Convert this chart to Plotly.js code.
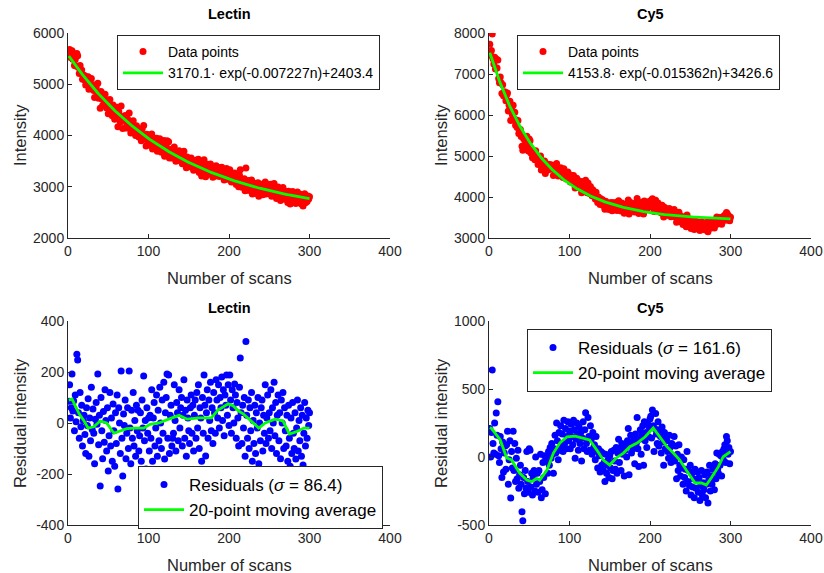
<!DOCTYPE html>
<html><head><meta charset="utf-8">
<script src="https://cdn.plot.ly/plotly-3.0.1.min.js"></script>
<style>html,body{margin:0;padding:0;background:#fff}#chart{width:824px;height:573px}</style>
</head><body><div id="chart"></div>
<script>
// Fit parameters (from the legends): I(n) = A*exp(k*n) + C
const lectinA = 3170.1, lectinK = -0.007227, lectinC = 2403.4;
const cy5A = 4153.8, cy5K = -0.015362, cy5C = 3426.6;

// Residuals, scans 1..300
const lectinResid = [
85,150,20,60,192,47,86,-30,110,5,
270,247,40,-60,120,-15,70,-90,10,30,
-45,-120,60,-10,95,-130,20,-70,140,-25,
55,-40,-160,15,80,-5,192,-85,30,-247,
100,-30,-140,45,-75,130,10,-110,60,-188,
-50,120,-90,20,-150,75,-30,-170,40,-80,
110,-259,60,0,-120,204,-60,-208,35,-10,
90,-140,-40,60,-100,204,-20,-160,50,-60,
120,-90,10,-130,70,-30,50,-110,-50,40,
-150,90,-20,184,-70,10,-180,60,-40,20,
-110,30,-60,130,-150,20,80,-90,-20,110,
-130,50,-70,140,0,-100,90,-40,160,-141,
40,100,192,-60,188,-120,30,70,-90,-60,
-40,150,10,-110,80,40,-70,130,-20,60,
100,-90,30,170,-60,50,-130,90,20,-30,
-80,60,110,-40,70,-110,30,90,-60,120,
-20,150,-100,60,20,-150,100,-40,188,70,
-129,40,130,-60,90,10,160,-30,60,-80,
120,40,-40,170,90,20,150,-20,100,60,
180,10,130,-50,110,70,188,30,150,-10,
188,90,-40,130,60,0,153,110,-60,80,
20,-90,140,255,40,-80,70,-20,100,-130,
320,30,-60,90,-100,60,-30,120,-150,10,
-80,70,-120,40,-20,100,-160,0,-70,60,
90,-110,30,-40,150,-80,20,110,-60,40,
-30,130,-100,60,0,160,-50,80,-120,30,
110,-70,40,-140,90,0,120,-100,60,-30,
-90,30,-150,70,-60,-170,20,-120,80,-40,
-100,40,-141,-20,90,-110,10,-70,60,-130,
30,-165,-40,80,-90,20,-60,50,-10,40];

const cy5Resid = [
210,0,180,640,100,30,250,20,323,160,
407,10,-40,150,60,-150,110,-110,30,80,
-90,90,190,-200,-20,120,-302,40,-80,190,
-100,100,-180,-10,-160,50,-230,-130,-60,-200,
-402,-468,-150,-270,-100,-230,40,-180,-260,60,
50,-220,-120,-280,-150,-100,-250,0,-200,-120,
-260,-100,-180,20,-300,-240,-40,-150,10,-270,
-30,0,-120,40,-60,70,-10,100,20,-120,
60,160,30,250,120,-20,180,50,230,90,
170,40,270,100,210,60,150,260,120,190,
60,240,150,90,270,200,-10,130,250,170,
50,220,100,180,-30,140,260,60,200,326,
100,40,290,150,50,230,130,20,180,70,
90,-20,150,40,-80,60,10,-110,40,-60,
30,-100,-40,-180,20,-120,-60,-20,-150,10,
-80,40,-160,-100,50,-30,-90,70,-120,30,
130,-40,60,-100,100,20,80,-140,50,90,
0,120,210,-130,80,160,30,110,60,140,
-50,170,100,290,60,-70,130,200,20,160,
230,-60,260,120,180,70,250,150,220,280,
300,140,345,230,40,210,320,170,100,260,
80,200,150,30,220,110,-60,180,60,140,
120,40,-10,160,70,-40,100,10,-20,150,
-30,80,-160,20,-100,90,-60,-140,0,-80,
-200,-20,-150,-90,-250,40,-180,-100,-210,-60,
-280,-120,-220,-160,-300,-90,-230,-170,-110,-260,
-150,-320,-210,-100,-280,-190,-240,-130,-300,-200,
-110,-338,-170,-60,-250,-140,-200,-90,-160,-240,
-50,-160,30,-90,-120,20,-60,10,-140,40,
-20,60,90,-40,150,120,20,70,-50,40];

// 20-point moving averages
const lectinMaN = [1,5,14,20,25,32,40,48,57,66,73,84,94,102,113,125,138,148,163,178,186,199,205,212,218,225,230,237,245,257,267,275,283,293,300];
const lectinMa  = [90,94,35,8,-20,-15,8,0,-40,-30,-22,-20,-20,-5,0,15,30,15,20,20,50,75,68,47,35,15,0,-20,0,15,8,-43,-35,-20,-20];
const cy5MaN = [1,3,14,22,28,38,47,53,59,63,72,80,88,97,107,117,125,134,142,150,158,167,175,184,194,204,212,221,229,237,245,256,264,270,276,285,291,300];
const cy5Ma  = [215,211,125,-7,-22,-118,-169,-181,-157,-170,-96,29,103,149,154,140,125,51,-22,-59,-7,29,76,103,149,213,149,76,29,-22,-96,-191,-191,-206,-154,-71,2,39];

// Tick labels
const xTicks = [0,100,200,300,400];
const lectinTopTicks = [2000,3000,4000,5000,6000];
const cy5TopTicks = [3000,4000,5000,6000,7000,8000];
const lectinResTicks = [-400,-200,0,200,400];
const lectinResLabels = ['-400','-200','0','200','400'];
const cy5ResTicks = [-500,0,500,1000];
const cy5ResLabels = ['-500','0','500','1000'];

const scans = lectinResid.map((_, i) => i + 1);
const lectinFitY = scans.map(n => lectinA * Math.exp(lectinK * n) + lectinC);
const cy5FitY = scans.map(n => cy5A * Math.exp(cy5K * n) + cy5C);
const lectinData = lectinResid.map((r, i) => lectinFitY[i] + r);
const cy5Data = cy5Resid.map((r, i) => cy5FitY[i] + r);

const FONT = 'Liberation Sans, Arial, Helvetica, sans-serif';
const AX = '#262626';
const GREEN = '#00ff00';
const MS = 7;

const traces = [
  {x: scans, y: lectinData, mode: 'markers', marker: {color: '#ff0000', size: MS}, name: 'Data points', xaxis: 'x', yaxis: 'y', legend: 'legend'},
  {x: scans, y: lectinFitY, mode: 'lines', line: {color: GREEN, width: 2.8}, name: '3170.1· exp(-0.007227n)+2403.4', xaxis: 'x', yaxis: 'y', legend: 'legend'},
  {x: scans, y: cy5Data, mode: 'markers', marker: {color: '#ff0000', size: MS}, name: 'Data points', xaxis: 'x2', yaxis: 'y2', legend: 'legend2'},
  {x: scans, y: cy5FitY, mode: 'lines', line: {color: GREEN, width: 2.8}, name: '4153.8· exp(-0.015362n)+3426.6', xaxis: 'x2', yaxis: 'y2', legend: 'legend2'},
  {x: scans, y: lectinResid, mode: 'markers', marker: {color: '#0000ff', size: MS}, name: 'Residuals (<i>σ</i> = 86.4)', xaxis: 'x3', yaxis: 'y3', legend: 'legend3'},
  {x: lectinMaN, y: lectinMa, mode: 'lines', line: {color: GREEN, width: 2.8}, name: '20-point moving average', xaxis: 'x3', yaxis: 'y3', legend: 'legend3'},
  {x: scans, y: cy5Resid, mode: 'markers', marker: {color: '#0000ff', size: MS}, name: 'Residuals (<i>σ</i> = 161.6)', xaxis: 'x4', yaxis: 'y4', legend: 'legend4'},
  {x: cy5MaN, y: cy5Ma, mode: 'lines', line: {color: GREEN, width: 2.8}, name: '20-point moving average', xaxis: 'x4', yaxis: 'y4', legend: 'legend4'}
];

function axis(extra) {
  return Object.assign({
    showline: true, linecolor: AX, linewidth: 1, ticks: 'inside', ticklen: 4, tickcolor: AX, tickwidth: 1,
    tickfont: {family: FONT, size: 14, color: AX}, showgrid: false, zeroline: false, mirror: false, fixedrange: true
  }, extra);
}
const colL = [68/824, 390/824], colR = [489/824, 811/824];
const rowT = [335/573, 540/573], rowB = [48/573, 252/573];

function legendBox(x, y, size) {
  return {x: x, y: y, xanchor: 'left', yanchor: 'top', bgcolor: '#fff', bordercolor: AX, borderwidth: 1,
    font: {family: FONT, size: size, color: '#000'}, tracegroupgap: 0, itemwidth: 40};
}

function ann(text, x, y, size, opts) {
  return Object.assign({text: text, x: x, y: y, xref: 'paper', yref: 'paper', showarrow: false,
    xanchor: 'center', yanchor: 'middle', font: {family: FONT, size: size, color: '#000'}}, opts || {});
}

const layout = {
  width: 824, height: 573, margin: {l: 0, r: 0, t: 0, b: 0},
  paper_bgcolor: '#fff', plot_bgcolor: '#fff', showlegend: true,
  xaxis: axis({domain: colL, anchor: 'y', range: [0, 400], tickvals: xTicks}),
  yaxis: axis({domain: rowT, anchor: 'x', range: [2000, 6000], tickvals: lectinTopTicks}),
  xaxis2: axis({domain: colR, anchor: 'y2', range: [0, 400], tickvals: xTicks}),
  yaxis2: axis({domain: rowT, anchor: 'x2', range: [3000, 8000], tickvals: cy5TopTicks}),
  xaxis3: axis({domain: colL, anchor: 'y3', range: [0, 400], tickvals: xTicks}),
  yaxis3: axis({domain: rowB, anchor: 'x3', range: [-400, 400], tickvals: lectinResTicks, ticktext: lectinResLabels}),
  xaxis4: axis({domain: colR, anchor: 'y4', range: [0, 400], tickvals: xTicks}),
  yaxis4: axis({domain: rowB, anchor: 'x4', range: [-500, 1000], tickvals: cy5ResTicks, ticktext: cy5ResLabels}),
  legend: legendBox(117/824, 1 - 35/573, 14),
  legend2: legendBox(517/824, 1 - 35/573, 14),
  legend3: legendBox(138/824, 1 - 466/573, 17),
  legend4: legendBox(527/824, 1 - 329/573, 17),
  annotations: [
    ann('<b>Lectin</b>', 229/824, 1 - 14/573, 14.5),
    ann('<b>Cy5</b>', 650/824, 1 - 14/573, 14.5),
    ann('<b>Lectin</b>', 229/824, 1 - 308/573, 14.5),
    ann('<b>Cy5</b>', 650/824, 1 - 308/573, 14.5),
    ann('Number of scans', 229/824, 1 - 278/573, 16.5, {font: {family: FONT, size: 16.5, color: AX}}),
    ann('Number of scans', 650/824, 1 - 278/573, 16.5, {font: {family: FONT, size: 16.5, color: AX}}),
    ann('Number of scans', 229/824, 1 - 565/573, 16.5, {font: {family: FONT, size: 16.5, color: AX}}),
    ann('Number of scans', 650/824, 1 - 565/573, 16.5, {font: {family: FONT, size: 16.5, color: AX}}),
    ann('Intensity', 20/824, 1 - 135/573, 16.5, {textangle: -90, font: {family: FONT, size: 16.5, color: AX}}),
    ann('Intensity', 441/824, 1 - 135/573, 16.5, {textangle: -90, font: {family: FONT, size: 16.5, color: AX}}),
    ann('Residual intensity', 20/824, 1 - 423/573, 16.5, {textangle: -90, font: {family: FONT, size: 16.5, color: AX}}),
    ann('Residual intensity', 441/824, 1 - 423/573, 16.5, {textangle: -90, font: {family: FONT, size: 16.5, color: AX}})
  ]
};

Plotly.newPlot('chart', traces, layout, {displayModeBar: false, staticPlot: true});
</script>
</body></html>
